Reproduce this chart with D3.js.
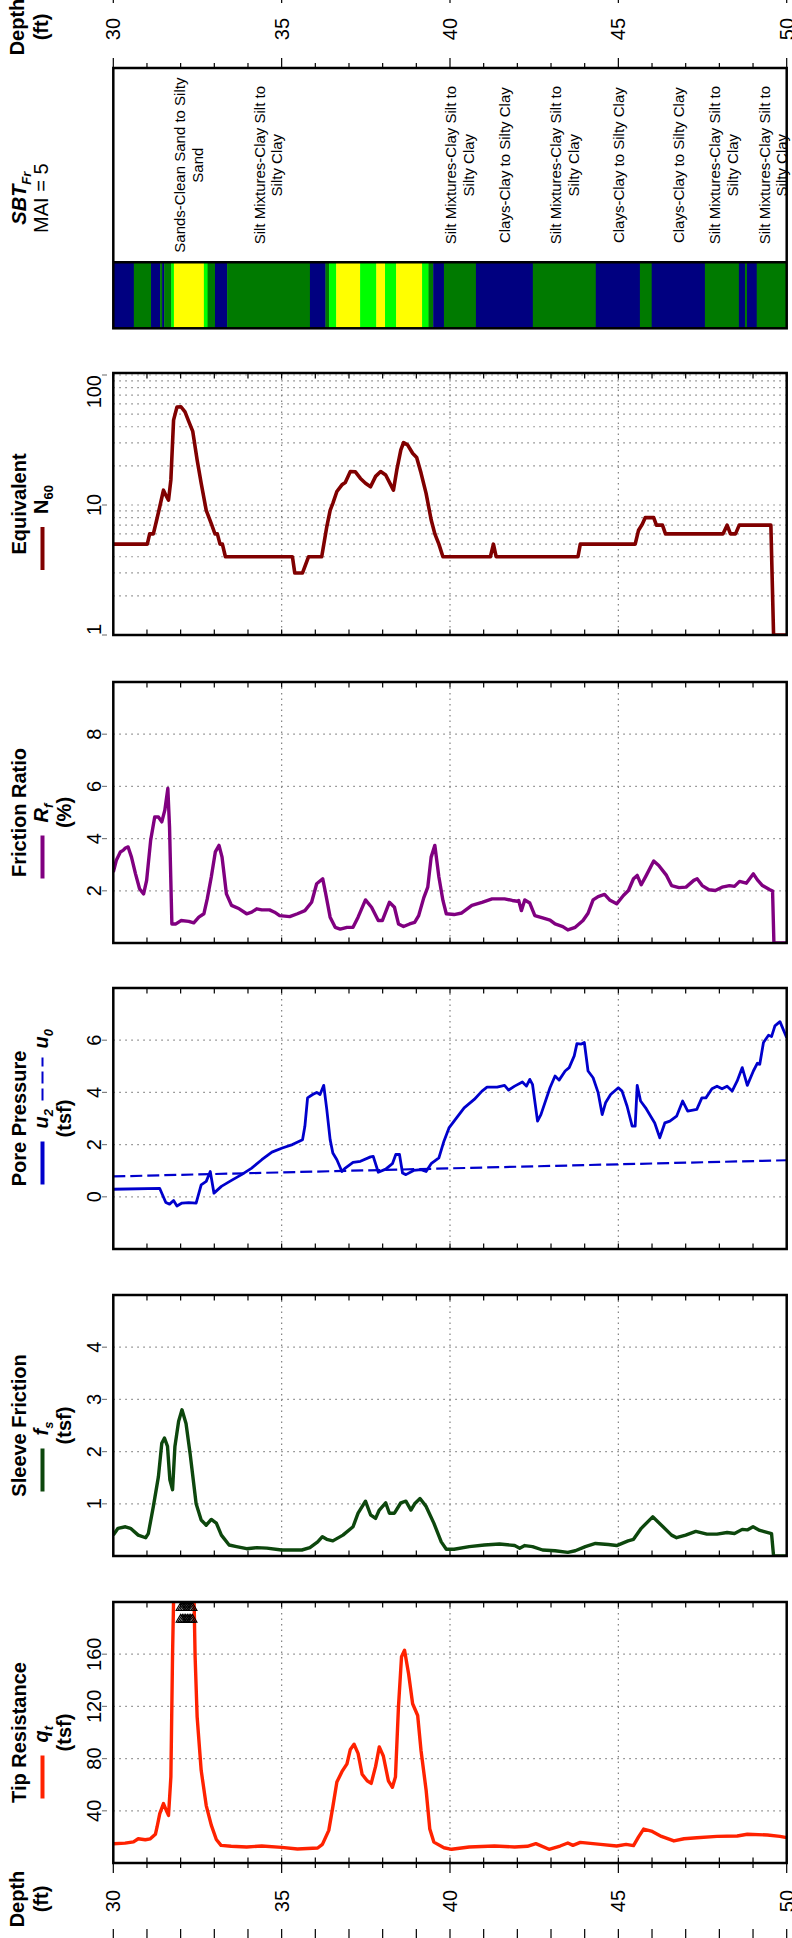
<!DOCTYPE html>
<html>
<head>
<meta charset="utf-8">
<script src="https://cdn.jsdelivr.net/npm/d3@7"></script>
<style>
  body { margin: 0; background: #fff; }
  svg { display: block; font-family: "Liberation Sans", Arial, sans-serif; }
</style>
</head>
<body>
<svg id="chart" width="792" height="1938"></svg>
<script>
// ---- data (depth in ft) ----
var depthLabels = [30, 35, 40, 45, 50];

var qtDepth = [30.0, 30.35, 30.6, 30.74, 30.95, 31.1, 31.25, 31.3, 31.38, 31.49, 31.58, 31.64, 31.71, 31.76, 31.8, 31.85, 32.0, 32.2, 32.35, 32.4, 32.43, 32.49, 32.61, 32.76, 32.91, 33.06, 33.2, 33.5, 33.96, 34.41, 35.0, 35.47, 36.07, 36.21, 36.4, 36.52, 36.64, 36.79, 36.94, 37.04, 37.15, 37.27, 37.39, 37.54, 37.66, 37.79, 37.9, 38.02, 38.17, 38.29, 38.38, 38.47, 38.56, 38.65, 38.77, 38.89, 39.04, 39.14, 39.29, 39.4, 39.52, 39.82, 40.05, 40.57, 41.32, 41.92, 42.3, 42.55, 42.94, 43.27, 43.5, 43.65, 43.87, 44.47, 44.95, 45.23, 45.45, 45.6, 45.75, 45.98, 46.28, 46.65, 46.95, 47.33, 47.93, 48.53, 48.83, 49.43, 49.8, 50.0];
var qtValue = [14.8, 15.2, 16.2, 18.6, 17.8, 18.5, 22, 27.6, 37.8, 45.5, 40, 36.5, 66, 160, 215, 250, 262, 255, 228, 200, 158, 112, 71, 44, 29, 18, 13.5, 12.8, 12.3, 13, 12, 10.7, 11.5, 14.3, 25, 43, 62, 70, 76, 87, 91, 84, 68, 63, 61, 74, 89, 82, 63, 58, 66, 120, 158, 163, 145, 122, 113, 86, 56, 26, 16, 11.7, 10.5, 12.3, 13, 12.3, 12.8, 14.8, 10.5, 13, 15.3, 13.5, 15.8, 14.3, 13, 14.3, 13.3, 20, 26, 24.5, 20.4, 16.9, 18.6, 19.4, 20.4, 20.7, 22, 21.5, 20.4, 19.4];
// depths where qt ran off the 200 tsf scale
var qtOffDepth = [32.0, 32.05, 32.1, 32.15, 32.2, 32.25, 32.3, 32.35];

var fsDepth = [30.0, 30.14, 30.36, 30.51, 30.74, 30.96, 31.04, 31.19, 31.34, 31.44, 31.52, 31.61, 31.68, 31.76, 31.83, 31.94, 32.04, 32.16, 32.28, 32.46, 32.61, 32.76, 32.91, 33.06, 33.21, 33.44, 33.66, 33.96, 34.26, 34.56, 35.0, 35.6, 35.84, 36.07, 36.21, 36.34, 36.52, 36.82, 37.12, 37.27, 37.49, 37.64, 37.79, 37.9, 38.09, 38.2, 38.35, 38.54, 38.69, 38.84, 38.95, 39.11, 39.29, 39.52, 39.74, 39.89, 40.12, 40.57, 41.02, 41.47, 41.92, 42.07, 42.22, 42.45, 42.75, 43.12, 43.5, 43.72, 44.02, 44.32, 44.7, 44.95, 45.29, 45.45, 45.68, 46.02, 46.28, 46.58, 46.73, 47.0, 47.3, 47.63, 47.93, 48.23, 48.45, 48.68, 48.83, 49.0, 49.2, 49.55, 49.61, 50.0];
var fsValue = [0.40, 0.53, 0.56, 0.53, 0.40, 0.35, 0.43, 0.95, 1.52, 2.16, 2.26, 2.10, 1.46, 1.27, 2.10, 2.58, 2.80, 2.54, 1.97, 1.00, 0.69, 0.59, 0.70, 0.63, 0.40, 0.21, 0.18, 0.14, 0.16, 0.15, 0.115, 0.115, 0.16, 0.27, 0.37, 0.32, 0.29, 0.40, 0.56, 0.82, 1.05, 0.79, 0.72, 0.88, 1.02, 0.82, 0.82, 1.02, 1.05, 0.88, 1.00, 1.10, 0.95, 0.63, 0.27, 0.13, 0.13, 0.18, 0.21, 0.23, 0.20, 0.15, 0.20, 0.18, 0.115, 0.10, 0.07, 0.10, 0.18, 0.24, 0.22, 0.20, 0.29, 0.32, 0.53, 0.75, 0.59, 0.40, 0.35, 0.40, 0.47, 0.42, 0.42, 0.45, 0.43, 0.51, 0.50, 0.56, 0.49, 0.43, 0.0, 0.0];

var u2Depth = [30.0, 31.38, 31.46, 31.56, 31.67, 31.79, 31.89, 32.04, 32.24, 32.46, 32.61, 32.76, 32.88, 32.99, 33.21, 33.51, 33.81, 34.11, 34.41, 34.71, 35.02, 35.32, 35.62, 35.69, 35.77, 35.92, 36.04, 36.14, 36.25, 36.34, 36.44, 36.52, 36.64, 36.79, 36.89, 37.12, 37.34, 37.64, 37.72, 37.87, 38.09, 38.29, 38.39, 38.5, 38.59, 38.69, 38.92, 39.14, 39.29, 39.44, 39.67, 39.82, 39.97, 40.2, 40.42, 40.72, 40.95, 41.1, 41.4, 41.62, 41.74, 41.92, 42.15, 42.27, 42.37, 42.45, 42.6, 42.7, 42.97, 43.12, 43.24, 43.42, 43.54, 43.69, 43.77, 43.9, 43.99, 44.1, 44.25, 44.4, 44.52, 44.62, 44.77, 45.0, 45.11, 45.26, 45.41, 45.5, 45.56, 45.66, 45.81, 45.96, 46.08, 46.23, 46.38, 46.53, 46.73, 46.91, 47.06, 47.33, 47.48, 47.6, 47.78, 47.93, 48.08, 48.23, 48.38, 48.53, 48.68, 48.83, 49.01, 49.13, 49.2, 49.31, 49.46, 49.55, 49.65, 49.8, 50.0];
var u2Value = [0.29, 0.32, 0.08, -0.22, -0.28, -0.14, -0.35, -0.24, -0.22, -0.24, 0.46, 0.59, 0.97, 0.14, 0.40, 0.63, 0.85, 1.10, 1.42, 1.71, 1.87, 2.00, 2.19, 2.70, 3.79, 3.92, 4.00, 3.92, 4.27, 3.35, 2.19, 1.68, 1.42, 0.97, 1.10, 1.32, 1.36, 1.53, 1.55, 0.94, 1.06, 1.27, 1.62, 1.62, 0.91, 0.85, 1.01, 1.04, 0.97, 1.27, 1.49, 2.13, 2.64, 3.03, 3.41, 3.73, 4.05, 4.20, 4.20, 4.27, 4.09, 4.24, 4.40, 4.24, 4.50, 4.31, 2.90, 3.15, 4.18, 4.63, 4.47, 4.82, 4.95, 5.40, 5.87, 5.85, 5.91, 4.82, 4.56, 3.99, 3.15, 3.60, 3.92, 4.18, 4.05, 3.47, 2.71, 2.71, 4.27, 3.67, 3.41, 3.09, 2.83, 2.26, 2.83, 2.90, 3.09, 3.67, 3.28, 3.35, 3.79, 3.79, 4.14, 4.24, 4.14, 4.24, 4.05, 4.44, 4.95, 4.27, 4.82, 5.12, 5.08, 5.91, 6.19, 6.14, 6.55, 6.71, 6.10];
var u0Depth = [30, 50];
var u0Value = [0.78, 1.40];

var rfDepth = [30.0, 30.09, 30.21, 30.29, 30.36, 30.44, 30.54, 30.66, 30.78, 30.9, 30.99, 31.11, 31.23, 31.34, 31.44, 31.53, 31.62, 31.67, 31.74, 31.86, 32.01, 32.24, 32.39, 32.54, 32.69, 32.79, 32.91, 33.03, 33.14, 33.23, 33.36, 33.51, 33.74, 33.96, 34.11, 34.26, 34.41, 34.64, 34.79, 34.94, 35.24, 35.47, 35.69, 35.89, 36.04, 36.22, 36.29, 36.44, 36.59, 36.74, 36.94, 37.12, 37.27, 37.49, 37.67, 37.87, 37.99, 38.2, 38.35, 38.47, 38.62, 38.8, 38.95, 39.07, 39.22, 39.34, 39.44, 39.55, 39.67, 39.79, 39.89, 40.12, 40.35, 40.65, 40.95, 41.25, 41.62, 41.85, 42.0, 42.04, 42.12, 42.22, 42.37, 42.52, 42.75, 42.97, 43.12, 43.35, 43.5, 43.72, 43.95, 44.1, 44.25, 44.4, 44.59, 44.74, 44.95, 45.15, 45.3, 45.45, 45.56, 45.68, 45.83, 46.05, 46.2, 46.43, 46.58, 46.8, 47.01, 47.24, 47.34, 47.49, 47.69, 47.88, 48.08, 48.3, 48.45, 48.6, 48.8, 49.01, 49.13, 49.28, 49.5, 49.58, 49.62, 50.0];
var rfValue = [2.72, 3.17, 3.49, 3.55, 3.64, 3.68, 3.29, 2.65, 2.08, 1.88, 2.40, 3.94, 4.83, 4.83, 4.64, 5.09, 5.92, 4.45, 0.73, 0.73, 0.86, 0.83, 0.77, 0.99, 1.12, 1.69, 2.53, 3.49, 3.74, 3.29, 1.88, 1.44, 1.31, 1.12, 1.18, 1.31, 1.27, 1.27, 1.18, 1.05, 1.01, 1.12, 1.24, 1.56, 2.27, 2.46, 2.01, 0.99, 0.60, 0.53, 0.60, 0.60, 0.99, 1.65, 1.37, 0.86, 0.86, 1.56, 1.37, 0.73, 0.63, 0.73, 0.79, 1.05, 1.73, 2.14, 3.29, 3.74, 2.53, 1.63, 1.12, 1.09, 1.15, 1.44, 1.56, 1.69, 1.69, 1.63, 1.60, 1.63, 1.24, 1.65, 1.53, 1.05, 0.96, 0.88, 0.73, 0.63, 0.50, 0.60, 0.86, 1.14, 1.65, 1.78, 1.86, 1.65, 1.50, 1.82, 2.01, 2.46, 2.59, 2.23, 2.59, 3.14, 2.97, 2.59, 2.20, 2.12, 2.14, 2.40, 2.46, 2.20, 2.04, 2.01, 2.14, 2.20, 2.17, 2.36, 2.29, 2.65, 2.42, 2.20, 2.04, 1.99, 0.0, 0.0];

var n60Depth = [30.0, 31.01, 31.08, 31.19, 31.29, 31.38, 31.49, 31.56, 31.64, 31.71, 31.79, 31.89, 32.01, 32.13, 32.24, 32.36, 32.49, 32.61, 32.76, 32.91, 33.02, 33.09, 33.17, 33.24, 33.33, 35.32, 35.39, 35.62, 35.8, 36.19, 36.34, 36.44, 36.52, 36.64, 36.79, 36.89, 37.04, 37.19, 37.34, 37.49, 37.64, 37.79, 37.94, 38.09, 38.24, 38.32, 38.42, 38.54, 38.62, 38.74, 38.89, 39.01, 39.14, 39.29, 39.44, 39.55, 39.67, 39.79, 41.2, 41.29, 41.37, 43.8, 43.87, 45.5, 45.6, 45.71, 45.8, 46.05, 46.13, 46.31, 46.4, 48.11, 48.23, 48.33, 48.48, 48.59, 49.53, 49.61, 50.0];
var n60Value = [5, 5, 6, 6, 7.7, 9.7, 13, 11.9, 10.9, 15.6, 45, 56.6, 57, 52, 44, 36.8, 22.2, 14.7, 9.1, 7.2, 6, 6, 5, 5, 4, 4, 3, 3, 4, 4, 6.8, 9.1, 10.3, 12.7, 14.3, 14.9, 18.1, 18, 16, 14.7, 13.8, 16.6, 18.1, 17, 14.3, 13, 18.6, 26.5, 30.2, 29, 25, 23.2, 17.6, 12.3, 7.7, 6, 5, 4, 4, 5, 4, 4, 5, 5, 6.4, 7.1, 8, 8, 7, 7, 6, 6, 7, 6, 6, 7, 7, 1, 1];

// soil behaviour type: layer tops and zone number
var sbtTop = [30, 30.61, 31.12, 31.39, 31.45, 31.51, 31.72, 31.80, 32.69, 32.80, 33.02, 33.38, 35.84, 36.30, 36.41, 36.62, 37.33, 37.81, 38.07, 38.40, 39.17, 39.36, 39.50, 39.82, 40.77, 42.46, 44.33, 45.64, 45.99, 47.57, 48.58, 48.76, 48.82, 49.11];
var sbtZone = [3, 4, 3, 4, 3, 4, 5, 6, 5, 4, 3, 4, 3, 4, 5, 6, 5, 6, 5, 6, 5, 4, 3, 4, 3, 4, 3, 4, 3, 4, 3, 4, 3, 4];
var sbtLabelDepth = [32.24, 34.6, 40.29, 41.62, 43.4, 45.0, 46.8, 48.12, 49.6];
var sbtLabelZone = [6, 4, 4, 3, 4, 3, 3, 4, 4];

var zoneColor = { 3: '#000080', 4: '#007a00', 5: '#00ff00', 6: '#ffff00' };
var zoneText = {
  3: ['Clays-Clay to Silty Clay'],
  4: ['Silt Mixtures-Clay Silt to', 'Silty Clay'],
  6: ['Sands-Clean Sand to Silty', 'Sand']
};

// ---- layout ----
var svg = d3.select('#chart');
var x = d3.scaleLinear().domain([30, 50]).range([113.3, 786.7]);
var minorFt = d3.range(30, 51);
var gridGray = '#808080';

function rtext(g, px, py, anchor) {
  return g.append('text')
    .attr('transform', 'translate(' + px + ',' + py + ') rotate(-90)')
    .attr('text-anchor', anchor || 'middle');
}

// depth axes at top and bottom
function depthAxis(labelY, titleY, tickSets) {
  var g = svg.append('g');
  tickSets.forEach(function(t) {
    g.selectAll(null).data(minorFt).enter().append('line')
      .attr('x1', function(d) { return x(d); })
      .attr('x2', function(d) { return x(d); })
      .attr('y1', function(d) { return d % 5 === 0 ? t.major[0] : t.minor[0]; })
      .attr('y2', function(d) { return d % 5 === 0 ? t.major[1] : t.minor[1]; })
      .attr('stroke', '#000').attr('stroke-width', 1.2);
  });
  depthLabels.forEach(function(d) {
    rtext(g, x(d), labelY).attr('dy', '0.35em').attr('font-size', 20).text(d);
  });
  rtext(g, 24, titleY).attr('font-size', 20).attr('font-weight', 'bold').text('Depth');
  rtext(g, 48, titleY).attr('font-size', 20).attr('font-weight', 'bold').text('(ft)');
}
depthAxis(29, 27, [{ major: [-7, 3], minor: [-7, -2] }, { major: [58, 68], minor: [63, 68] }]);
depthAxis(1901, 1899, [{ major: [1863, 1873], minor: [1863, 1868] }, { major: [1929, 1938], minor: [1929, 1938] }]);

// ---- SBT column ----
(function() {
  var top = 68, mid = 262.3, bot = 328.3;
  var g = svg.append('g');
  var layers = sbtTop.map(function(t, i) {
    return { from: t, to: i < sbtTop.length - 1 ? sbtTop[i + 1] : 50, zone: sbtZone[i] };
  });
  g.selectAll('rect.layer').data(layers).enter().append('rect')
    .attr('x', function(d) { return x(d.from); })
    .attr('width', function(d) { return x(d.to) - x(d.from) + 0.4; })
    .attr('y', mid).attr('height', bot - mid)
    .attr('fill', function(d) { return zoneColor[d.zone]; });
  g.append('rect').attr('x', x(30)).attr('y', top).attr('width', x(50) - x(30)).attr('height', bot - top)
    .attr('fill', 'none').attr('stroke', '#000').attr('stroke-width', 2.5);
  g.append('line').attr('x1', x(30)).attr('x2', x(50)).attr('y1', mid).attr('y2', mid)
    .attr('stroke', '#000').attr('stroke-width', 2.5);
  sbtLabelDepth.forEach(function(d, i) {
    var lines = zoneText[sbtLabelZone[i]];
    lines.forEach(function(s, k) {
      var off = (k - (lines.length - 1) / 2) * 17.7;
      rtext(g, x(d) + off, (top + mid) / 2).attr('dy', '0.35em').attr('font-size', 15).text(s);
    });
  });
  var c = (top + bot) / 2;
  var t1 = rtext(g, 26, c).attr('font-size', 20).attr('font-weight', 'bold').attr('font-style', 'italic');
  t1.append('tspan').text('SBT');
  t1.append('tspan').attr('font-size', 13).attr('dy', 5).text('Fr');
  rtext(g, 48, c).attr('font-size', 20).text('MAI = 5');
})();

// ---- data panels ----
var panels = [
  { key: 'n60', top: 373, bottom: 635, log: true, domain: [1, 103.6], ticks: [1, 10, 100],
    grid: [2, 3, 4, 5, 6, 7, 8, 9, 10, 20, 30, 40, 50, 60, 70, 80, 90, 100],
    title: 'Equivalent', sym: ['N', '60', false], units: null,
    series: [{ depth: n60Depth, value: n60Value, color: '#800000', width: 3.6 }] },
  { key: 'rf', top: 682, bottom: 943, domain: [0, 10], ticks: [2, 4, 6, 8], grid: [2, 4, 6, 8],
    title: 'Friction Ratio', sym: ['R', 'f', true], units: '(%)',
    series: [{ depth: rfDepth, value: rfValue, color: '#800080', width: 3.4 }] },
  { key: 'u', top: 988, bottom: 1249, domain: [-2, 8], ticks: [0, 2, 4, 6], grid: [0, 2, 4, 6],
    title: 'Pore Pressure', sym: ['u', '2', true], sym2: ['u', '0', true], units: '(tsf)',
    series: [{ depth: u2Depth, value: u2Value, color: '#0000cc', width: 2.8 },
             { depth: u0Depth, value: u0Value, color: '#0000cc', width: 2.2, dash: '12,5' }] },
  { key: 'fs', top: 1295, bottom: 1556, domain: [0, 5], ticks: [1, 2, 3, 4], grid: [1, 2, 3, 4],
    title: 'Sleeve Friction', sym: ['f', 's', true], units: '(tsf)',
    series: [{ depth: fsDepth, value: fsValue, color: '#0d470d', width: 3.4 }] },
  { key: 'qt', top: 1602, bottom: 1863, domain: [0, 200], ticks: [40, 80, 120, 160], grid: [40, 80, 120, 160],
    title: 'Tip Resistance', sym: ['q', 't', true], units: '(tsf)',
    series: [{ depth: qtDepth, value: qtValue, color: '#ff2200', width: 3.4 }] }
];

function symText(g, px, py, sym) {
  var t = rtext(g, px, py, 'start').attr('font-size', 20).attr('font-weight', 'bold');
  var main = t.append('tspan').text(sym[0]);
  if (sym[2]) main.attr('font-style', 'italic');
  t.append('tspan').attr('font-size', 13).attr('dy', 5)
    .attr('font-style', sym[2] ? 'italic' : 'normal').text(sym[1]);
  return t;
}

panels.forEach(function(p) {
  var g = svg.append('g');
  var y = (p.log ? d3.scaleLog() : d3.scaleLinear()).domain(p.domain).range([p.bottom, p.top]);
  var x0 = x(30), x1 = x(50);

  svg.append('clipPath').attr('id', 'clip-' + p.key)
    .append('rect').attr('x', x0).attr('y', p.top).attr('width', x1 - x0).attr('height', p.bottom - p.top);

  // grid
  g.selectAll(null).data([35, 40, 45]).enter().append('line')
    .attr('x1', function(d) { return x(d); }).attr('x2', function(d) { return x(d); })
    .attr('y1', p.top).attr('y2', p.bottom)
    .attr('stroke', gridGray).attr('stroke-width', 1.2).attr('stroke-dasharray', '1.5,4');
  g.selectAll(null).data(p.grid).enter().append('line')
    .attr('x1', x0).attr('x2', x1)
    .attr('y1', function(d) { return y(d); }).attr('y2', function(d) { return y(d); })
    .attr('stroke', gridGray).attr('stroke-width', 1.2).attr('stroke-dasharray', '1.5,4.5');

  // depth ticks inside top and bottom edges
  g.selectAll(null).data(minorFt).enter().append('line')
    .attr('x1', function(d) { return x(d); }).attr('x2', function(d) { return x(d); })
    .attr('y1', p.top).attr('y2', p.top + 5.5).attr('stroke', '#000').attr('stroke-width', 1.2);
  g.selectAll(null).data(minorFt).enter().append('line')
    .attr('x1', function(d) { return x(d); }).attr('x2', function(d) { return x(d); })
    .attr('y1', p.bottom - 5.5).attr('y2', p.bottom).attr('stroke', '#000').attr('stroke-width', 1.2);

  // curves
  var line = d3.line().x(function(d) { return x(d[0]); }).y(function(d) { return y(d[1]); });
  p.series.forEach(function(s) {
    g.append('path').datum(d3.zip(s.depth, s.value))
      .attr('d', line).attr('fill', 'none')
      .attr('stroke', s.color).attr('stroke-width', s.width)
      .attr('stroke-linejoin', 'round')
      .attr('stroke-dasharray', s.dash || null)
      .attr('clip-path', 'url(#clip-' + p.key + ')');
  });

  // off-scale markers for tip resistance
  if (p.key === 'qt') {
    var tri = d3.symbol().type(d3.symbolTriangle).size(36);
    [195.5, 186.5].forEach(function(v) {
      g.selectAll(null).data(qtOffDepth).enter().append('path')
        .attr('d', tri)
        .attr('transform', function(d) { return 'translate(' + x(d) + ',' + y(v) + ')'; })
        .attr('fill', 'none').attr('stroke', '#000').attr('stroke-width', 1.1);
    });
  }

  // frame
  g.append('rect').attr('x', x0).attr('y', p.top).attr('width', x1 - x0).attr('height', p.bottom - p.top)
    .attr('fill', 'none').attr('stroke', '#000').attr('stroke-width', 2.5);

  // value tick labels
  p.ticks.forEach(function(v, i) {
    var anchor = 'middle';
    if (p.log && i === 0) anchor = 'start';
    if (p.log && i === p.ticks.length - 1) anchor = 'end';
    rtext(g, 101, y(v), anchor).attr('font-size', 20).text(v);
    g.append('line').attr('x1', 102).attr('x2', 107).attr('y1', y(v)).attr('y2', y(v))
      .attr('stroke', gridGray).attr('stroke-width', 1.2);
  });

  // title block
  var c = (p.top + p.bottom) / 2;
  rtext(g, 26, c).attr('font-size', 20).attr('font-weight', 'bold').text(p.title);
  g.append('line').attr('x1', 42.5).attr('x2', 42.5).attr('y1', c + 66).attr('y2', c + 23)
    .attr('stroke', p.series[0].color).attr('stroke-width', 4);
  symText(g, 48, c + 10, p.sym);
  if (p.sym2) {
    g.append('line').attr('x1', 42.5).attr('x2', 42.5).attr('y1', c - 18).attr('y2', c - 61)
      .attr('stroke', p.series[1].color).attr('stroke-width', 2).attr('stroke-dasharray', '12,5');
    symText(g, 48, c - 70, p.sym2);
  }
  if (p.units) rtext(g, 71, c).attr('font-size', 20).attr('font-weight', 'bold').text(p.units);
});
</script>
</body>
</html>
